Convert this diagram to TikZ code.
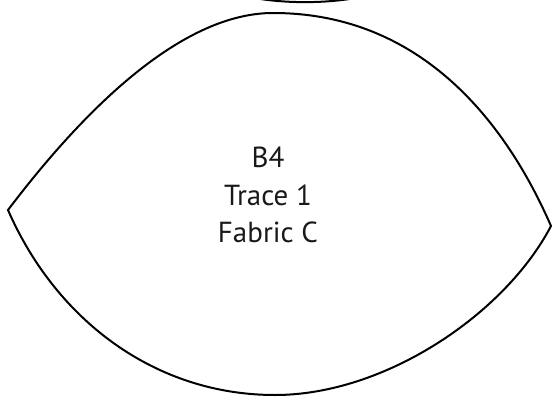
\documentclass[tikz,border=0pt]{standalone}
\usepackage{fontspec}
\setmainfont{PT Sans}
\tikzset{
  outline/.style={draw=black, line width=2pt, line join=miter},
  label/.style={font=\fontsize{29}{34}\selectfont, text=black!90, anchor=base, inner sep=0pt}
}
\begin{document}
\begin{tikzpicture}[x=1pt, y=-1pt]
  \useasboundingbox (0,0) rectangle (553,396);
  \coordinate (L) at (8,210);
  \coordinate (T) at (273,13);
  \coordinate (R) at (551,226);
  \coordinate (B) at (275,395);
  % main pattern piece
  \draw[outline] (L) .. controls (86.5,106.4) and (183,13) .. (T)
     .. controls (423,13) and (507,125) .. (R)
     .. controls (505,314) and (385,395) .. (B)
     .. controls (155,395) and (56,320) .. cycle;
  % piece cut off at the top
  \draw[outline] (230,-8) .. controls (270,5.5) and (340,5.5) .. (380,-8);
  % labels
  \node[label] (l1) at (268,167) {B4};
  \node[label] (l2) at (268,205) {Trace 1};
  \node[label] (l3) at (268,242) {Fabric C};
\end{tikzpicture}
\end{document}
